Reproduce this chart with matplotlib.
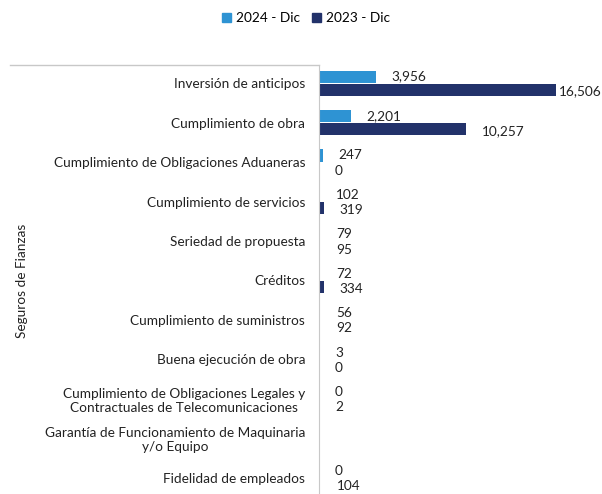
import numpy as np
import matplotlib.pyplot as plt
from matplotlib.lines import Line2D

plt.rcParams['font.family'] = ['Lato', 'DejaVu Sans']

# -----------------------------
# DATA
# -----------------------------
categories = [
    "Inversión de anticipos",
    "Cumplimiento de obra",
    "Cumplimiento de Obligaciones Aduaneras",
    "Cumplimiento de servicios",
    "Seriedad de propuesta",
    "Créditos",
    "Cumplimiento de suministros",
    "Buena ejecución de obra",
    "Cumplimiento de Obligaciones Legales y\nContractuales de Telecomunicaciones",
    "Garantía de Funcionamiento de Maquinaria\ny/o Equipo",
    "Fidelidad de empleados",
]
values_2024 = [3956, 2201, 247, 102, 79, 72, 56, 3, 0, np.nan, 0]
values_2023 = [16506, 10257, 0, 319, 95, 334, 92, 0, 2, np.nan, 104]
series_names = ["2024 - Dic", "2023 - Dic"]

c_2024 = "#2E93D3"
c_2023 = "#22326A"
grey = "#c8c8c8"
fs = 9.8

# -----------------------------
# FIGURE
# -----------------------------
fig = plt.figure(figsize=(6.02, 4.94), dpi=100)
ax = fig.add_axes([319 / 602, 0.0, 1 - 319 / 602, 1 - 65 / 494])

y = np.arange(len(categories))
h = 0.31
ax.barh(y - h / 2 - 0.01, np.nan_to_num(values_2024), height=h, color=c_2024)
ax.barh(y + h / 2 + 0.01, np.nan_to_num(values_2023), height=h, color=c_2023)

xmax = 19710
ax.set_xlim(0, xmax)
ax.set_ylim(10.41, -0.46)

# value labels
for i in range(len(categories)):
    for v, dy in ((values_2024[i], -h / 2 - 0.02), (values_2023[i], h / 2 + 0.06)):
        if np.isnan(v):
            continue
        off = 2 if v > 0.8 * xmax else 11.5
        ax.annotate(f"{int(v):,}", (v, i + dy), xytext=(off, 0),
                    textcoords="offset points", va="center", ha="left",
                    fontsize=fs, color="#222222", annotation_clip=False)

ax.set_yticks(y)
ax.set_yticklabels(categories, fontsize=fs, color="#222222", multialignment="center")
ax.tick_params(axis="y", length=0, pad=10)
ax.set_xticks([])
for s in ["top", "right", "bottom"]:
    ax.spines[s].set_visible(False)
ax.spines["left"].set_color(grey)

# group header line
fig.add_artist(Line2D([10 / 602, 319 / 602], [1 - 65 / 494, 1 - 65 / 494],
                      color=grey, lw=1, transform=fig.transFigure))

fig.text(22 / 602, 1 - 281 / 494, "Seguros de Fianzas", rotation=90,
         ha="center", va="center", fontsize=fs, color="#222222")

handles = [plt.Rectangle((0, 0), 1, 1, color=c_2024),
           plt.Rectangle((0, 0), 1, 1, color=c_2023)]
fig.legend(handles, series_names, loc="upper center", bbox_to_anchor=(0.508, 1.0),
           ncol=2, frameon=False, fontsize=fs, handlelength=0.7, handleheight=0.7,
           handletextpad=0.3, columnspacing=0.9)

fig.savefig("out.png", dpi=100)
